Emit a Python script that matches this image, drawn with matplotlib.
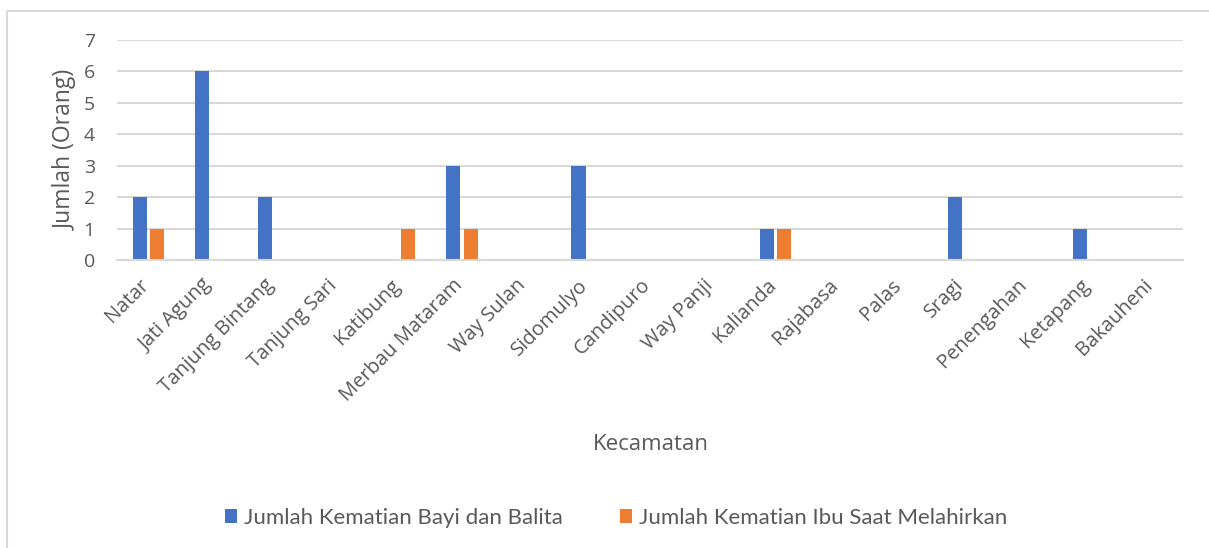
import matplotlib.pyplot as plt
import matplotlib.patches as mpatches
import numpy as np

kecamatan = ['Natar', 'Jati Agung', 'Tanjung Bintang', 'Tanjung Sari', 'Katibung',
             'Merbau Mataram', 'Way Sulan', 'Sidomulyo', 'Candipuro', 'Way Panji',
             'Kalianda', 'Rajabasa', 'Palas', 'Sragi', 'Penengahan', 'Ketapang',
             'Bakauheni']
bayi_balita = [2, 6, 2, 0, 0, 3, 0, 3, 0, 0, 1, 0, 0, 2, 0, 1, 0]
ibu_melahirkan = [1, 0, 0, 0, 1, 1, 0, 0, 0, 0, 1, 0, 0, 0, 0, 0, 0]
seri = ['Jumlah Kematian Bayi dan Balita', 'Jumlah Kematian Ibu Saat Melahirkan']

BIRU = '#4472C4'
ORANYE = '#ED7D31'
ABU = '#595959'
GRID = '#D9D9D9'

fig = plt.figure(figsize=(12.09, 5.48), dpi=100)
ax = fig.add_axes([117 / 1209, 1 - 260 / 548, (1183 - 117) / 1209, 220 / 548])

# border grafik ala Excel
fig.patches.append(mpatches.Rectangle((7 / 1209, -0.05), 1.1, 1 - 11 / 548 + 0.05,
                                      transform=fig.transFigure, fill=False,
                                      edgecolor=GRID, lw=1.5))

x = np.arange(len(kecamatan))
lebar = 0.225
ax.bar(x - 0.14, bayi_balita, width=lebar, color=BIRU, label=seri[0], zorder=2)
ax.bar(x + 0.14, ibu_melahirkan, width=lebar, color=ORANYE, label=seri[1], zorder=2)

# tick tidak terlihat, posisinya digeser sedikit supaya ujung label pas di tengah kategori
ax.set_xticks(x - 0.15)
ax.set_xticklabels(kecamatan, rotation=45, ha='right', rotation_mode='anchor',
                   fontsize=14.5, family='Open Sans', color=ABU)
ax.tick_params(axis='x', pad=11)
ax.set_xlim(-0.5, len(kecamatan) - 0.5)
ax.set_ylim(0, 7)
ax.set_yticks(range(8))
ax.yaxis.grid(True, color=GRID, lw=1.5, zorder=1)
for s in ['top', 'right', 'left']:
    ax.spines[s].set_visible(False)
ax.spines['bottom'].set_color(GRID)
ax.spines['bottom'].set_linewidth(1.5)
ax.tick_params(axis='both', length=0, colors=ABU)
ax.set_yticklabels([str(i) for i in range(8)], fontsize=14, family='Open Sans')
ax.tick_params(axis='y', pad=16)

ax.set_ylabel('Jumlah (Orang)', fontsize=16.5, family='Open Sans', color=ABU, labelpad=4)
fig.text(651 / 1209, 1 - 445 / 548, 'Kecamatan', fontsize=16, family='Open Sans',
         color=ABU, ha='center', va='center')

leg = fig.legend(loc='center', bbox_to_anchor=(616 / 1209, 1 - 518 / 548), ncol=2,
                 frameon=False, prop={'family': 'Lato', 'size': 16},
                 handlelength=0.55, handleheight=0.55, handletextpad=0.3,
                 columnspacing=2.6)
for t in leg.get_texts():
    t.set_color(ABU)

fig.savefig('out.png', dpi=100)
